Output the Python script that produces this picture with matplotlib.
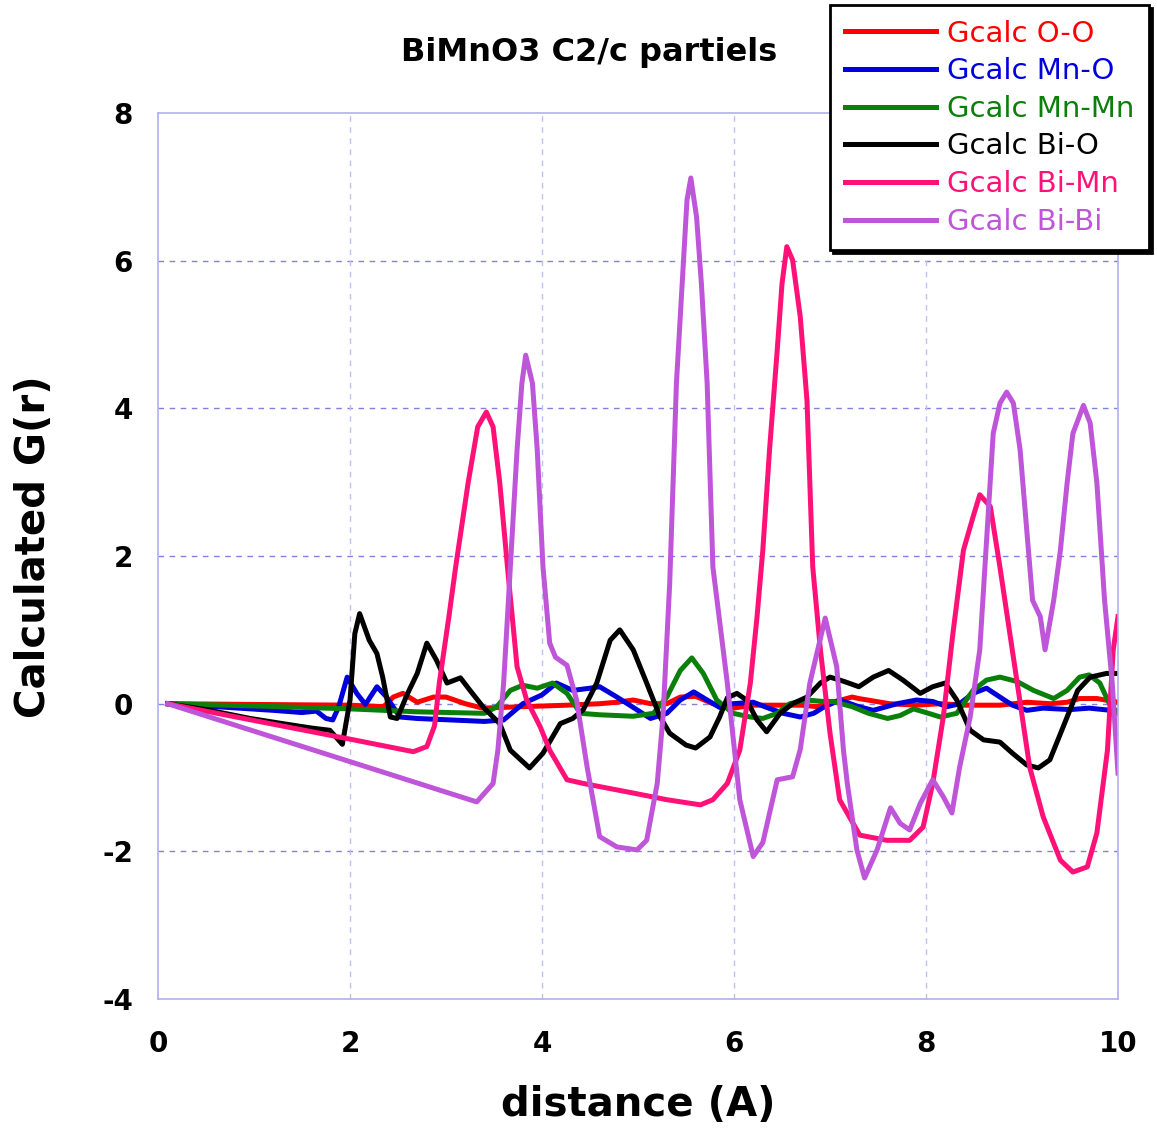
from matplotlib import pyplot as plt

plt.rcParams['axes.unicode_minus'] = False

# values, distance in A
oo_r = [0.1, 1.0, 2.0, 2.35, 2.45, 2.55, 2.7, 2.87, 3.0, 3.2, 3.38, 3.8, 4.26, 4.6, 4.78, 4.95,
        5.13, 5.3, 5.44, 5.6, 5.78, 5.99, 6.2, 6.7, 6.87, 7.03, 7.23, 7.3, 7.62, 7.9, 8.15,
        8.42, 8.77, 9.05, 9.3, 9.47, 9.6, 9.78, 10.0]
oo_g = [0.0, -0.01, -0.02, -0.04, 0.09, 0.14, 0.02, 0.09, 0.09, 0.0, -0.06, -0.04, -0.02, 0.0, 0.02, 0.05,
        0.0, 0.0, 0.09, 0.1, 0.0, -0.06, -0.02, -0.02, -0.04, 0.02, 0.09, 0.07, 0.0, -0.02, 0.0,
        -0.02, -0.02, 0.02, 0.0, 0.02, 0.07, 0.07, 0.02]

mno_r = [0.1, 0.6, 1.2, 1.5, 1.65, 1.75, 1.82, 1.88, 1.97, 2.07, 2.16, 2.28, 2.38, 2.52, 2.7, 3.05,
         3.4, 3.6, 3.8, 4.0, 4.15, 4.32, 4.5, 4.6, 4.78, 4.95, 5.13, 5.3, 5.44, 5.58, 5.72, 5.85,
         5.99, 6.2, 6.34, 6.51, 6.69, 6.83, 6.93, 7.1, 7.3, 7.45, 7.7, 7.9, 8.07, 8.22, 8.35,
         8.49, 8.63, 8.77, 8.9, 9.05, 9.22, 9.5, 9.7, 9.85, 10.0]
mno_g = [0.0, -0.04, -0.09, -0.12, -0.1, -0.2, -0.22, -0.05, 0.36, 0.14, -0.01, 0.23, 0.09, -0.18, -0.2, -0.22,
         -0.24, -0.22, 0.0, 0.12, 0.28, 0.18, 0.21, 0.23, 0.09, -0.05, -0.2, -0.13, 0.05, 0.16, 0.05, -0.05,
         0.0, 0.02, -0.05, -0.13, -0.18, -0.13, -0.05, 0.05, -0.04, -0.09, 0.0, 0.05, 0.03, -0.04, 0.0,
         0.14, 0.21, 0.09, -0.02, -0.09, -0.06, -0.08, -0.06, -0.08, -0.1]

mnmn_r = [0.1, 1.0, 2.0, 2.7, 3.4, 3.53, 3.67, 3.8, 3.95, 4.11, 4.26, 4.4, 4.6, 4.95, 5.16, 5.3,
          5.44, 5.56, 5.68, 5.82, 5.99, 6.17, 6.3, 6.45, 6.58, 6.76, 6.93, 7.03, 7.23, 7.4, 7.6,
          7.73, 7.87, 8.0, 8.15, 8.32, 8.49, 8.63, 8.77, 8.95, 9.12, 9.33, 9.47, 9.6, 9.7, 9.81,
          9.91, 10.0]
mnmn_g = [0.0, -0.03, -0.07, -0.11, -0.13, -0.04, 0.18, 0.25, 0.21, 0.28, 0.14, -0.13, -0.15, -0.17, -0.13, 0.09,
          0.45, 0.62, 0.41, 0.05, -0.13, -0.18, -0.2, -0.13, 0.0, 0.05, 0.03, 0.03, -0.04, -0.13, -0.2,
          -0.16, -0.07, -0.12, -0.18, -0.13, 0.18, 0.32, 0.36, 0.3, 0.18, 0.07, 0.18, 0.36, 0.39, 0.28,
          0.0, -0.13]

bio_r = [0.1, 0.5, 0.96, 1.3, 1.6, 1.79, 1.92, 2.0, 2.05, 2.1, 2.2, 2.28, 2.34, 2.42, 2.49, 2.6,
         2.7, 2.8, 2.9, 3.01, 3.15, 3.25, 3.39, 3.56, 3.67, 3.87, 4.01, 4.19, 4.32, 4.43, 4.57,
         4.71, 4.81, 4.95, 5.09, 5.23, 5.33, 5.5, 5.6, 5.75, 5.85, 5.93, 6.03, 6.13, 6.24, 6.34,
         6.48, 6.61, 6.76, 6.9, 7.0, 7.15, 7.3, 7.45, 7.61, 7.76, 7.94, 8.07, 8.2, 8.32, 8.46,
         8.6, 8.77, 8.9, 9.05, 9.17, 9.29, 9.43, 9.58, 9.71, 9.88, 10.0]
bio_g = [0.0, -0.08, -0.2, -0.27, -0.33, -0.36, -0.55, 0.05, 0.95, 1.22, 0.86, 0.68, 0.36, -0.18, -0.2, 0.14,
         0.41, 0.82, 0.59, 0.28, 0.35, 0.18, -0.05, -0.27, -0.63, -0.87, -0.67, -0.27, -0.2, -0.08, 0.28,
         0.86, 1.0, 0.73, 0.28, -0.18, -0.4, -0.56, -0.6, -0.45, -0.18, 0.08, 0.14, 0.05, -0.22, -0.38,
         -0.13, 0.0, 0.09, 0.28, 0.36, 0.3, 0.23, 0.36, 0.45, 0.32, 0.14, 0.23, 0.28, 0.05, -0.36,
         -0.49, -0.52, -0.67, -0.83, -0.87, -0.76, -0.31, 0.18, 0.36, 0.41, 0.41]

bimn_r = [0.1, 2.0, 2.66, 2.8, 2.88, 2.93, 3.03, 3.1, 3.23, 3.33, 3.42, 3.49, 3.56, 3.64, 3.74, 3.84,
          3.98, 4.08, 4.26, 4.43, 4.95, 5.3, 5.65, 5.78, 5.93, 6.06, 6.17, 6.24, 6.3, 6.37, 6.45,
          6.5, 6.55, 6.61, 6.69, 6.76, 6.82, 6.9, 7.0, 7.1, 7.31, 7.59, 7.83, 7.97, 8.07, 8.18,
          8.28, 8.39, 8.49, 8.56, 8.67, 8.77, 8.95, 9.08, 9.22, 9.4, 9.53, 9.68, 9.78, 9.89, 9.95,
          10.0]
bimn_g = [0.0, -0.48, -0.65, -0.58, -0.3, 0.28, 1.18, 1.85, 2.99, 3.75, 3.95, 3.75, 2.99, 1.85, 0.5, 0.05,
          -0.31, -0.63, -1.03, -1.08, -1.21, -1.3, -1.37, -1.3, -1.08, -0.63, 0.28, 1.18, 2.08, 3.44, 4.79,
          5.69, 6.19, 6.01, 5.24, 4.11, 1.85, 0.73, -0.4, -1.3, -1.78, -1.85, -1.85, -1.67, -1.08, -0.18,
          0.95, 2.08, 2.53, 2.83, 2.67, 1.85, 0.28, -0.86, -1.53, -2.12, -2.28, -2.21, -1.75, -0.63, 0.73,
          1.18]

bibi_r = [0.1, 3.32, 3.49, 3.54, 3.6, 3.65, 3.74, 3.79, 3.83, 3.9, 3.95, 4.01, 4.08, 4.14, 4.26, 4.36,
          4.47, 4.6, 4.78, 4.99, 5.09, 5.2, 5.26, 5.33, 5.4, 5.46, 5.51, 5.55, 5.61, 5.66, 5.72,
          5.78, 5.93, 6.06, 6.2, 6.3, 6.45, 6.61, 6.69, 6.79, 6.95, 7.07, 7.14, 7.18, 7.28, 7.36,
          7.49, 7.63, 7.73, 7.83, 7.94, 8.07, 8.18, 8.27, 8.35, 8.46, 8.56, 8.7, 8.77, 8.84, 8.91,
          8.98, 9.11, 9.19, 9.24, 9.33, 9.4, 9.47, 9.53, 9.64, 9.71, 9.78, 9.86, 9.94, 10.0]
bibi_g = [0.0, -1.33, -1.08, -0.63, 0.28, 1.4, 3.44, 4.34, 4.72, 4.34, 3.44, 1.85, 0.82, 0.63, 0.52, 0.05,
          -0.86, -1.8, -1.94, -1.98, -1.85, -1.08, -0.18, 1.63, 4.34, 5.69, 6.82, 7.12, 6.59, 5.69, 4.34,
          1.85, 0.28, -1.3, -2.07, -1.88, -1.03, -0.99, -0.62, 0.28, 1.16, 0.5, -0.63, -1.08, -1.98, -2.36,
          -1.98, -1.41, -1.62, -1.71, -1.35, -1.03, -1.26, -1.48, -0.86, -0.18, 0.73, 3.66, 4.07, 4.22, 4.07,
          3.44, 1.4, 1.18, 0.73, 1.4, 2.08, 2.99, 3.66, 4.04, 3.8, 2.99, 1.4, 0.28, -0.94]

series = [
    ("Gcalc O-O", oo_r, oo_g, "#ff0000"),
    ("Gcalc Mn-O", mno_r, mno_g, "#0000dd"),
    ("Gcalc Mn-Mn", mnmn_r, mnmn_g, "#0a800a"),
    ("Gcalc Bi-O", bio_r, bio_g, "#000000"),
    ("Gcalc Bi-Mn", bimn_r, bimn_g, "#ff1177"),
    ("Gcalc Bi-Bi", bibi_r, bibi_g, "#bf55d9"),
]


def main():
    fig = plt.figure(figsize=(11.57, 11.29), dpi=100)
    ax = fig.add_axes([0.1366, 0.1151, 0.8297, 0.7848])

    for label, r, g, col in series:
        ax.plot(r, g, color=col, lw=3.6, label=label, solid_joinstyle='round')

    ax.set_xlim(0, 10)
    ax.set_ylim(-4, 8)
    ax.set_xticks(range(0, 11, 2))
    ax.set_yticks(range(-4, 9, 2))
    ax.tick_params(length=0, labelsize=20, pad=18)
    for t in ax.get_xticklabels() + ax.get_yticklabels():
        t.set_fontweight('bold')
    ax.tick_params(axis='x', pad=22)

    for y in range(-2, 8, 2):
        ax.axhline(y, color='#8080dd', lw=1, ls=(0, (4, 4)), zorder=0)
    for x in range(2, 10, 2):
        ax.axvline(x, color='#c0c0f0', lw=1, ls=(0, (4, 4)), zorder=0)
    for s in ax.spines.values():
        s.set_color('#b0b0ee')
        s.set_linewidth(1.2)

    ax.set_xlabel("distance (A)", fontsize=29, fontweight='bold', labelpad=20)
    ax.set_ylabel("Calculated G(r)", fontsize=29, fontweight='bold')
    ax.yaxis.set_label_coords(-0.108, 0.51)
    fig.text(589 / 1157, 1 - 52 / 1129, "BiMnO3 C2/c partiels", fontsize=23,
             fontweight='bold', ha='center', va='center')

    leg = ax.legend(loc='upper left', bbox_to_anchor=(830 / 1157, 1 - 5 / 1129),
                    bbox_transform=fig.transFigure, borderaxespad=0, fontsize=21,
                    labelcolor='linecolor', handlelength=3.15, handletextpad=0.36,
                    labelspacing=0.33, borderpad=0.5, fancybox=False, framealpha=1,
                    edgecolor='black', shadow={'color': 'black', 'alpha': 1})
    leg.get_frame().set_linewidth(2)

    fig.savefig("out.png", dpi=100)


if __name__ == "__main__":
    main()
